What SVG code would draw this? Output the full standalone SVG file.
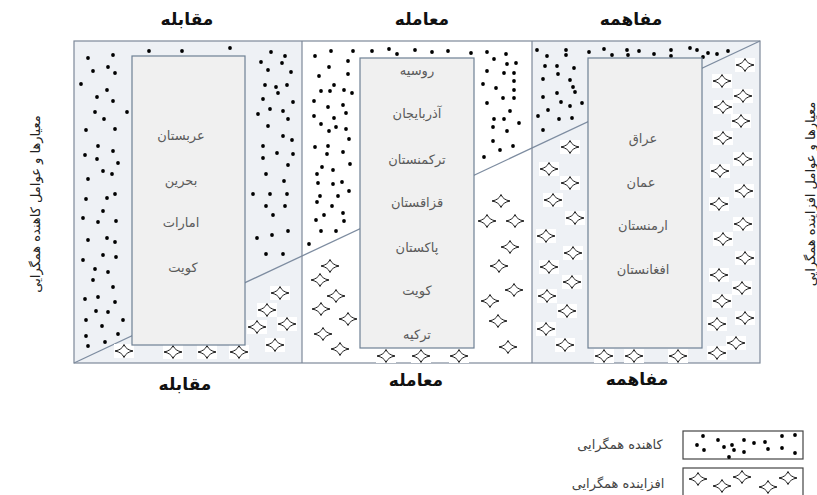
<svg xmlns="http://www.w3.org/2000/svg" xmlns:xlink="http://www.w3.org/1999/xlink" width="817" height="495" viewBox="0 0 817 495">
<style>
.bg{fill:#eef1f5}
.frame{fill:none;stroke:#7d8999;stroke-width:1.2}
.box{fill:#f0f0f0;stroke:#6e8094;stroke-width:1.2}
.diag{stroke:#7d8ca0;stroke-width:1.3;fill:none}
.hd{font-family:"DejaVu Sans",sans-serif;font-size:17px;font-weight:bold;fill:#111;text-anchor:middle}
.ct{font-family:"DejaVu Sans",sans-serif;font-size:13px;fill:#5a5a5a;text-anchor:middle}
.vt{font-family:"DejaVu Sans",sans-serif;font-size:13px;fill:#222;text-anchor:middle}
.lg{font-family:"DejaVu Sans",sans-serif;font-size:13px;fill:#444;text-anchor:middle}
.lbox{fill:#fff;stroke:#444;stroke-width:1.2}
</style>
<defs>
<circle id="d" r="1.9" fill="#000"/>
<g id="s">
<rect x="-10" y="-7" width="20" height="14" fill="#fff"/>
<path d="M-9,0 Q-2,-1.2 0,-6.5 Q2,-1.2 9,0 Q2,1.2 0,6.5 Q-2,1.2 -9,0Z" fill="#fff" stroke="#000" stroke-width="0.9"/>
</g>
</defs>

<g id="panels">
<rect class="bg" x="74" y="41" width="228" height="322"/>
<rect x="302" y="41" width="230" height="322" fill="#fff"/>
<rect class="bg" x="532" y="41" width="228" height="322"/>
<line class="diag" x1="74" y1="363" x2="760" y2="41"/>
<rect class="frame" x="74" y="41" width="686" height="322"/>
<line class="frame" x1="302" y1="41" x2="302" y2="363"/>
<line class="frame" x1="532" y1="41" x2="532" y2="363"/>
</g>

<g id="dots-left">
<use href="#d" x="88" y="58"/><use href="#d" x="113" y="55"/><use href="#d" x="93" y="71"/><use href="#d" x="108" y="67"/><use href="#d" x="115" y="73"/><use href="#d" x="81" y="84"/><use href="#d" x="107" y="90"/><use href="#d" x="97" y="97"/><use href="#d" x="113" y="101"/><use href="#d" x="95" y="112"/><use href="#d" x="127" y="112"/><use href="#d" x="104" y="119"/><use href="#d" x="86" y="130"/><use href="#d" x="115" y="129"/><use href="#d" x="98" y="146"/><use href="#d" x="85" y="155"/><use href="#d" x="113" y="151"/><use href="#d" x="97" y="159"/><use href="#d" x="118" y="163"/><use href="#d" x="103" y="171"/><use href="#d" x="112" y="174"/><use href="#d" x="88" y="179"/><use href="#d" x="86" y="199"/><use href="#d" x="107" y="198"/><use href="#d" x="115" y="194"/><use href="#d" x="103" y="211"/><use href="#d" x="83" y="218"/><use href="#d" x="98" y="222"/><use href="#d" x="116" y="221"/><use href="#d" x="88" y="240"/><use href="#d" x="107" y="238"/><use href="#d" x="115" y="242"/><use href="#d" x="83" y="260"/><use href="#d" x="103" y="255"/><use href="#d" x="116" y="257"/><use href="#d" x="95" y="269"/><use href="#d" x="108" y="272"/><use href="#d" x="93" y="280"/><use href="#d" x="113" y="287"/><use href="#d" x="85" y="299"/><use href="#d" x="98" y="297"/><use href="#d" x="115" y="302"/><use href="#d" x="96" y="311"/><use href="#d" x="108" y="312"/><use href="#d" x="86" y="320"/><use href="#d" x="123" y="320"/><use href="#d" x="102" y="326"/><use href="#d" x="118" y="334"/><use href="#d" x="86" y="336"/><use href="#d" x="88" y="346"/><use href="#d" x="105" y="342"/>
<use href="#d" x="149" y="51"/><use href="#d" x="182" y="51"/><use href="#d" x="230" y="48"/>
<use href="#d" x="271" y="52"/><use href="#d" x="285" y="56"/><use href="#d" x="261" y="62"/><use href="#d" x="282" y="63"/><use href="#d" x="268" y="70"/><use href="#d" x="291" y="72"/><use href="#d" x="265" y="85"/><use href="#d" x="276" y="87"/><use href="#d" x="287" y="85"/><use href="#d" x="278" y="93"/><use href="#d" x="263" y="99"/><use href="#d" x="293" y="102"/><use href="#d" x="270" y="109"/><use href="#d" x="283" y="111"/><use href="#d" x="258" y="114"/><use href="#d" x="288" y="119"/><use href="#d" x="268" y="126"/><use href="#d" x="283" y="136"/><use href="#d" x="292" y="140"/><use href="#d" x="263" y="146"/><use href="#d" x="277" y="153"/><use href="#d" x="293" y="154"/><use href="#d" x="263" y="158"/><use href="#d" x="288" y="165"/><use href="#d" x="266" y="174"/><use href="#d" x="284" y="181"/><use href="#d" x="253" y="194"/><use href="#d" x="270" y="194"/><use href="#d" x="287" y="194"/><use href="#d" x="266" y="206"/><use href="#d" x="285" y="206"/><use href="#d" x="273" y="215"/><use href="#d" x="288" y="231"/><use href="#d" x="257" y="238"/><use href="#d" x="272" y="235"/><use href="#d" x="266" y="254"/><use href="#d" x="283" y="254"/>
</g>

<g id="dots-middle">
<use href="#d" x="315" y="56"/><use href="#d" x="331" y="51"/><use href="#d" x="353" y="51"/><use href="#d" x="329" y="67"/><use href="#d" x="348" y="61"/><use href="#d" x="319" y="76"/><use href="#d" x="348" y="74"/><use href="#d" x="334" y="85"/><use href="#d" x="321" y="91"/><use href="#d" x="330" y="91"/><use href="#d" x="344" y="90"/><use href="#d" x="352" y="93"/><use href="#d" x="314" y="101"/><use href="#d" x="328" y="107"/><use href="#d" x="343" y="105"/><use href="#d" x="314" y="116"/><use href="#d" x="334" y="118"/><use href="#d" x="346" y="113"/><use href="#d" x="321" y="124"/><use href="#d" x="329" y="131"/><use href="#d" x="336" y="127"/><use href="#d" x="346" y="129"/><use href="#d" x="349" y="139"/><use href="#d" x="315" y="147"/><use href="#d" x="328" y="146"/><use href="#d" x="327" y="154"/><use href="#d" x="343" y="152"/><use href="#d" x="350" y="164"/><use href="#d" x="322" y="167"/><use href="#d" x="333" y="170"/><use href="#d" x="317" y="174"/><use href="#d" x="318" y="183"/><use href="#d" x="333" y="184"/><use href="#d" x="342" y="182"/><use href="#d" x="320" y="196"/><use href="#d" x="338" y="196"/><use href="#d" x="349" y="191"/><use href="#d" x="317" y="202"/><use href="#d" x="332" y="206"/><use href="#d" x="324" y="215"/><use href="#d" x="343" y="213"/><use href="#d" x="316" y="220"/><use href="#d" x="344" y="221"/><use href="#d" x="321" y="231"/><use href="#d" x="336" y="231"/><use href="#d" x="309" y="244"/>
<use href="#d" x="372" y="51"/><use href="#d" x="389" y="49"/><use href="#d" x="397" y="54"/><use href="#d" x="415" y="50"/><use href="#d" x="432" y="52"/><use href="#d" x="448" y="51"/><use href="#d" x="471" y="53"/>
<use href="#d" x="487" y="52"/><use href="#d" x="494" y="59"/><use href="#d" x="506" y="54"/><use href="#d" x="507" y="64"/><use href="#d" x="516" y="63"/><use href="#d" x="487" y="71"/><use href="#d" x="504" y="73"/><use href="#d" x="514" y="73"/><use href="#d" x="483" y="84"/><use href="#d" x="496" y="88"/><use href="#d" x="514" y="81"/><use href="#d" x="514" y="90"/><use href="#d" x="503" y="98"/><use href="#d" x="514" y="98"/><use href="#d" x="487" y="103"/><use href="#d" x="510" y="111"/><use href="#d" x="494" y="119"/><use href="#d" x="504" y="119"/><use href="#d" x="519" y="123"/><use href="#d" x="493" y="127"/><use href="#d" x="507" y="131"/><use href="#d" x="493" y="141"/><use href="#d" x="513" y="146"/><use href="#d" x="500" y="150"/><use href="#d" x="484" y="157"/>
</g>

<g id="dots-right">
<use href="#d" x="537" y="50"/><use href="#d" x="547" y="56"/><use href="#d" x="566" y="50"/><use href="#d" x="566" y="55"/><use href="#d" x="545" y="66"/><use href="#d" x="557" y="66"/><use href="#d" x="574" y="68"/><use href="#d" x="558" y="74"/><use href="#d" x="543" y="79"/><use href="#d" x="570" y="80"/><use href="#d" x="573" y="87"/><use href="#d" x="557" y="93"/><use href="#d" x="575" y="92"/><use href="#d" x="543" y="97"/><use href="#d" x="561" y="102"/><use href="#d" x="570" y="106"/><use href="#d" x="582" y="103"/><use href="#d" x="548" y="110"/><use href="#d" x="538" y="116"/><use href="#d" x="559" y="119"/><use href="#d" x="572" y="118"/><use href="#d" x="543" y="130"/>
<use href="#d" x="589" y="52"/><use href="#d" x="604" y="49"/><use href="#d" x="612" y="55"/><use href="#d" x="627" y="50"/><use href="#d" x="628" y="55"/><use href="#d" x="639" y="51"/><use href="#d" x="654" y="54"/><use href="#d" x="671" y="50"/><use href="#d" x="671" y="56"/><use href="#d" x="690" y="48"/><use href="#d" x="697" y="50"/><use href="#d" x="703" y="57"/><use href="#d" x="708" y="53"/><use href="#d" x="717" y="54"/><use href="#d" x="728" y="51"/>
</g>

<g id="stars-left">
<use href="#s" x="280" y="293"/><use href="#s" x="267" y="310"/><use href="#s" x="287" y="324"/><use href="#s" x="257" y="327"/><use href="#s" x="275" y="345"/><use href="#s" x="124" y="351"/><use href="#s" x="173" y="352"/><use href="#s" x="207" y="352"/><use href="#s" x="239" y="352"/>
</g>
<g id="stars-middle">
<use href="#s" x="330" y="266"/><use href="#s" x="320" y="280"/><use href="#s" x="336" y="296"/><use href="#s" x="321" y="309"/><use href="#s" x="348" y="319"/><use href="#s" x="323" y="334"/><use href="#s" x="340" y="349"/>
<use href="#s" x="386" y="356"/><use href="#s" x="421" y="356"/><use href="#s" x="459" y="356"/>
<use href="#s" x="501" y="201"/><use href="#s" x="487" y="221"/><use href="#s" x="515" y="221"/><use href="#s" x="510" y="247"/><use href="#s" x="499" y="266"/><use href="#s" x="514" y="290"/><use href="#s" x="490" y="301"/><use href="#s" x="498" y="321"/><use href="#s" x="508" y="347"/>
</g>
<g id="stars-right">
<use href="#s" x="570" y="147"/><use href="#s" x="549" y="169"/><use href="#s" x="570" y="183"/><use href="#s" x="553" y="200"/><use href="#s" x="575" y="218"/><use href="#s" x="546" y="236"/><use href="#s" x="573" y="253"/><use href="#s" x="549" y="267"/><use href="#s" x="572" y="282"/><use href="#s" x="547" y="296"/><use href="#s" x="567" y="311"/><use href="#s" x="546" y="329"/><use href="#s" x="565" y="345"/>
<use href="#s" x="604" y="356"/><use href="#s" x="634" y="356"/><use href="#s" x="678" y="356"/><use href="#s" x="717" y="353"/>
<use href="#s" x="745" y="65"/><use href="#s" x="722" y="81"/><use href="#s" x="743" y="96"/><use href="#s" x="723" y="107"/><use href="#s" x="741" y="121"/><use href="#s" x="723" y="138"/><use href="#s" x="743" y="159"/><use href="#s" x="720" y="171"/><use href="#s" x="744" y="191"/><use href="#s" x="719" y="204"/><use href="#s" x="743" y="224"/><use href="#s" x="723" y="239"/><use href="#s" x="745" y="258"/><use href="#s" x="719" y="275"/><use href="#s" x="742" y="288"/><use href="#s" x="722" y="301"/><use href="#s" x="745" y="318"/><use href="#s" x="717" y="324"/><use href="#s" x="736" y="343"/>
</g>

<g id="box-left">
<rect class="box" x="132" y="56" width="113" height="289"/>
<text class="ct" x="181" y="140">عربستان</text>
<text class="ct" x="181" y="185">بحرین</text>
<text class="ct" x="181" y="227">امارات</text>
<text class="ct" x="183" y="272">کویت</text>
</g>
<g id="box-middle">
<rect class="box" x="360" y="58" width="114" height="290"/>
<text class="ct" x="417" y="75">روسیه</text>
<text class="ct" x="417" y="118">آذربایجان</text>
<text class="ct" x="417" y="164">ترکمنستان</text>
<text class="ct" x="417" y="207">قزاقستان</text>
<text class="ct" x="417" y="252">پاکستان</text>
<text class="ct" x="417" y="295">کویت</text>
<text class="ct" x="417" y="339">ترکیه</text>
</g>
<g id="box-right">
<rect class="box" x="588" y="58" width="114" height="290"/>
<text class="ct" x="643" y="143">عراق</text>
<text class="ct" x="641" y="187">عمان</text>
<text class="ct" x="643" y="230">ارمنستان</text>
<text class="ct" x="643" y="274">افغانستان</text>
</g>

<g id="headers">
<text class="hd" x="187" y="25">مقابله</text>
<text class="hd" x="422" y="25">معامله</text>
<text class="hd" x="631" y="25">مفاهمه</text>
<text class="hd" x="185" y="390">مقابله</text>
<text class="hd" x="416" y="386">معامله</text>
<text class="hd" x="637" y="385">مفاهمه</text>
</g>

<g id="side-left">
<text class="vt" transform="translate(40,204) rotate(-90)">معیارها و عوامل کاهنده همگرایی</text>
</g>
<g id="side-right">
<text class="vt" transform="translate(815,194) rotate(-90)">معیارها و عوامل افزاینده همگرایی</text>
</g>

<g id="legend">
<rect class="lbox" x="683" y="431" width="120" height="28"/>
<use href="#d" x="703" y="436"/><use href="#d" x="697" y="445"/><use href="#d" x="704" y="450"/><use href="#d" x="718" y="440"/><use href="#d" x="724" y="447"/><use href="#d" x="732" y="445"/><use href="#d" x="729" y="457"/><use href="#d" x="734" y="450"/><use href="#d" x="744" y="440"/><use href="#d" x="754" y="443"/><use href="#d" x="765" y="442"/><use href="#d" x="744" y="452"/><use href="#d" x="768" y="449"/><use href="#d" x="782" y="436"/><use href="#d" x="795" y="435"/><use href="#d" x="782" y="448"/><use href="#d" x="795" y="453"/>
<text class="lg" x="620" y="449">کاهنده همگرایی</text>
<rect class="lbox" x="683" y="468" width="120" height="32"/>
<use href="#s" x="698" y="479"/><use href="#s" x="722" y="486"/><use href="#s" x="742" y="477"/><use href="#s" x="768" y="487"/><use href="#s" x="788" y="478"/>
<text class="lg" x="618" y="488">افزاینده همگرایی</text>
</g>
</svg>
